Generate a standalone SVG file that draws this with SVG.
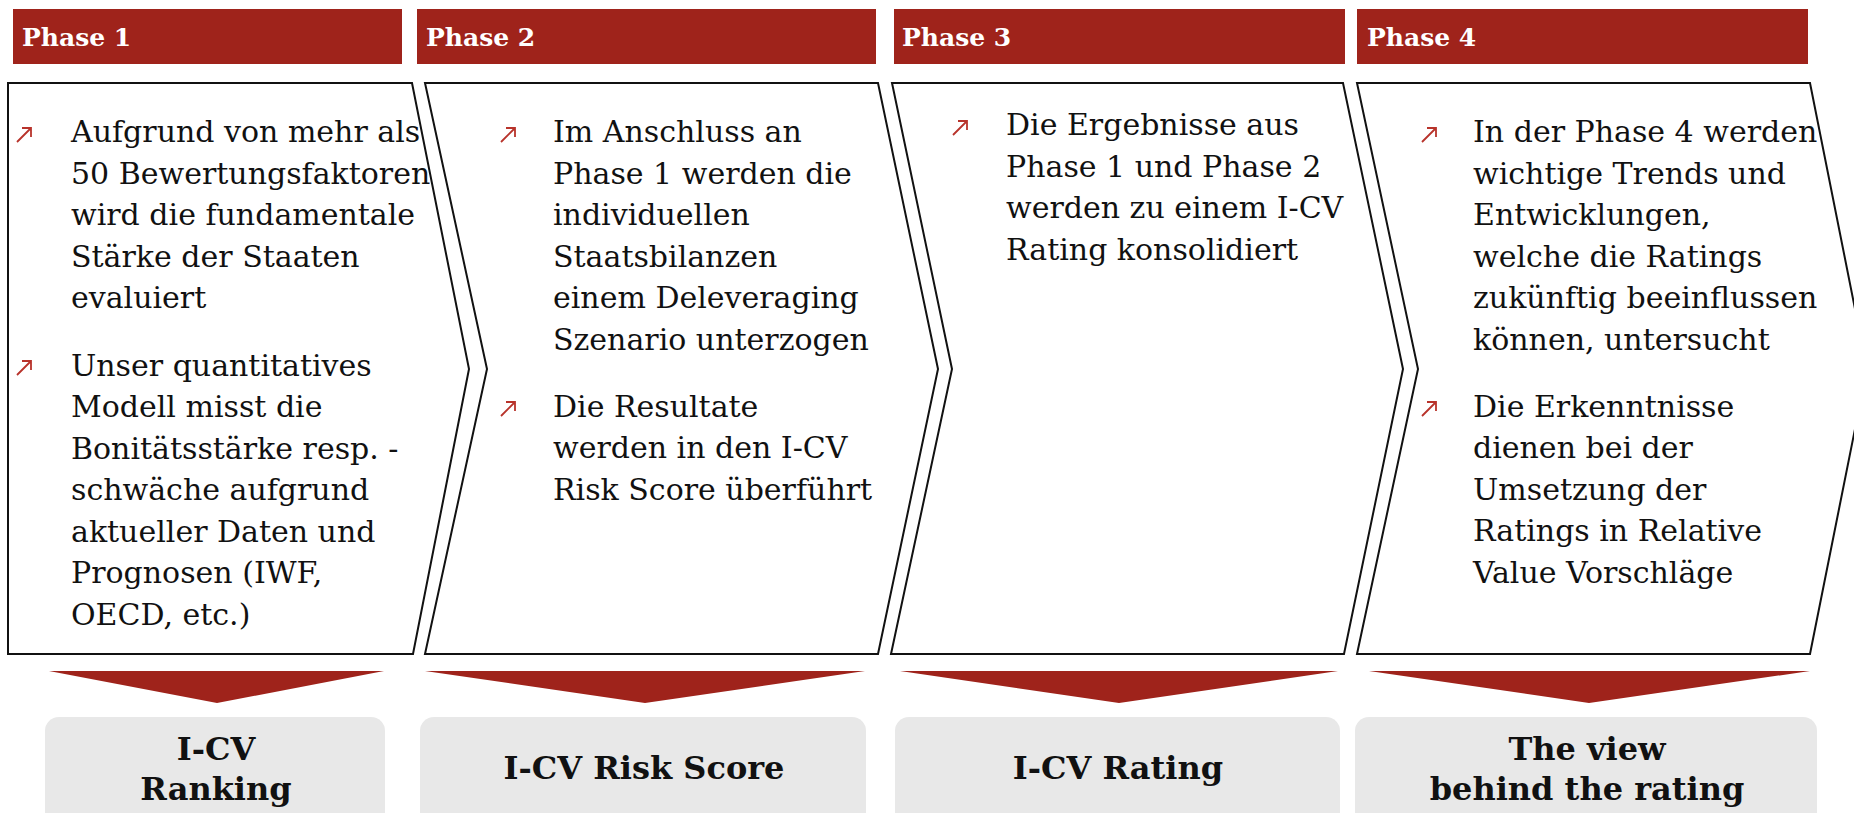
<svg xmlns="http://www.w3.org/2000/svg" xmlns:xlink="http://www.w3.org/1999/xlink" width="1854" height="813" viewBox="0 0 1854 813">
  <style>
    .bar { fill: #9f231b; }
    .bar-label { font-family: "DejaVu Serif", "Liberation Serif", serif; font-weight: bold; font-size: 25px; fill: #ffffff; }
    .chevron { fill: #ffffff; stroke: #111111; stroke-width: 2; stroke-linejoin: miter; }
    .body { font-family: "DejaVu Serif", "Liberation Serif", serif; font-size: 30px; fill: #111111; }
    .drop { fill: #9f231b; }
    .result { fill: #e8e8e8; }
    .result-label { font-family: "DejaVu Serif", "Liberation Serif", serif; font-weight: bold; font-size: 32px; fill: #111111; text-anchor: middle; }
    .bullet { fill: none; stroke: #b8332b; stroke-width: 1.8; }
  </style>
  <defs>
    <!-- small north-east arrow used as list bullet -->
    <g id="arrow-bullet">
      <path class="bullet" d="M1,15 L15,1 M6,1 H15 V10"/>
    </g>
  </defs>

  <rect width="1854" height="813" fill="#ffffff"/>

  <!-- Phase 1 -->
  <g id="phase1">
    <rect class="bar" x="13" y="9" width="389" height="55"/>
    <text class="bar-label" x="22" y="46">Phase 1</text>
    <path class="chevron" d="M8,83 L412,83 L469,369 L413,654 L8,654 Z"/>
    <use xlink:href="#arrow-bullet" x="16" y="127"/>
    <text class="body">
      <tspan x="71" y="142">Aufgrund von mehr als</tspan>
      <tspan x="71" dy="41.5">50 Bewertungsfaktoren</tspan>
      <tspan x="71" dy="41.5">wird die fundamentale</tspan>
      <tspan x="71" dy="41.5">Stärke der Staaten</tspan>
      <tspan x="71" dy="41.5">evaluiert</tspan>
    </text>
    <use xlink:href="#arrow-bullet" x="16" y="360"/>
    <text class="body">
      <tspan x="71" y="375.5">Unser quantitatives</tspan>
      <tspan x="71" dy="41.5">Modell misst die</tspan>
      <tspan x="71" dy="41.5">Bonitätsstärke resp. -</tspan>
      <tspan x="71" dy="41.5">schwäche aufgrund</tspan>
      <tspan x="71" dy="41.5">aktueller Daten und</tspan>
      <tspan x="71" dy="41.5">Prognosen (IWF,</tspan>
      <tspan x="71" dy="41.5">OECD, etc.)</tspan>
    </text>
  </g>

  <!-- Phase 2 -->
  <g id="phase2">
    <rect class="bar" x="417" y="9" width="459" height="55"/>
    <text class="bar-label" x="426" y="46">Phase 2</text>
    <path class="chevron" d="M425,83 L878,83 L938,369 L878,654 L425,654 L487,369 Z"/>
    <use xlink:href="#arrow-bullet" x="500" y="127"/>
    <text class="body">
      <tspan x="553" y="142">Im Anschluss an</tspan>
      <tspan x="553" dy="41.5">Phase 1 werden die</tspan>
      <tspan x="553" dy="41.5">individuellen</tspan>
      <tspan x="553" dy="41.5">Staatsbilanzen</tspan>
      <tspan x="553" dy="41.5">einem Deleveraging</tspan>
      <tspan x="553" dy="41.5">Szenario unterzogen</tspan>
    </text>
    <use xlink:href="#arrow-bullet" x="500" y="401"/>
    <text class="body">
      <tspan x="553" y="416.5">Die Resultate</tspan>
      <tspan x="553" dy="41.5">werden in den I-CV</tspan>
      <tspan x="553" dy="41.5">Risk Score überführt</tspan>
    </text>
  </g>

  <!-- Phase 3 -->
  <g id="phase3">
    <rect class="bar" x="894" y="9" width="451" height="55"/>
    <text class="bar-label" x="902" y="46">Phase 3</text>
    <path class="chevron" d="M892,83 L1343,83 L1403,369 L1344,654 L891,654 L952,369 Z"/>
    <use xlink:href="#arrow-bullet" x="952" y="120"/>
    <text class="body">
      <tspan x="1006" y="135">Die Ergebnisse aus</tspan>
      <tspan x="1006" dy="41.5">Phase 1 und Phase 2</tspan>
      <tspan x="1006" dy="41.5">werden zu einem I-CV</tspan>
      <tspan x="1006" dy="41.5">Rating konsolidiert</tspan>
    </text>
  </g>

  <!-- Phase 4 -->
  <g id="phase4">
    <rect class="bar" x="1357" y="9" width="451" height="55"/>
    <text class="bar-label" x="1367" y="46">Phase 4</text>
    <path class="chevron" d="M1357,83 L1810,83 L1867,369 L1810,654 L1357,654 L1418,369 Z"/>
    <use xlink:href="#arrow-bullet" x="1421" y="127"/>
    <text class="body">
      <tspan x="1473" y="142">In der Phase 4 werden</tspan>
      <tspan x="1473" dy="41.5">wichtige Trends und</tspan>
      <tspan x="1473" dy="41.5">Entwicklungen,</tspan>
      <tspan x="1473" dy="41.5">welche die Ratings</tspan>
      <tspan x="1473" dy="41.5">zukünftig beeinflussen</tspan>
      <tspan x="1473" dy="41.5">können, untersucht</tspan>
    </text>
    <use xlink:href="#arrow-bullet" x="1421" y="401"/>
    <text class="body">
      <tspan x="1473" y="416.5">Die Erkenntnisse</tspan>
      <tspan x="1473" dy="41.5">dienen bei der</tspan>
      <tspan x="1473" dy="41.5">Umsetzung der</tspan>
      <tspan x="1473" dy="41.5">Ratings in Relative</tspan>
      <tspan x="1473" dy="41.5">Value Vorschläge</tspan>
    </text>
  </g>

  <!-- downward pointers from each phase to its result -->
  <g id="connectors">
    <polygon class="drop" points="49,671 384,671 217,703"/>
    <polygon class="drop" points="425,671 865,671 645,703"/>
    <polygon class="drop" points="900,671 1338,671 1119,703"/>
    <polygon class="drop" points="1369,671 1810,671 1589,703"/>
  </g>

  <!-- results -->
  <g id="result1">
    <rect class="result" x="45" y="717" width="340" height="110" rx="14"/>
    <text class="result-label" x="216" y="760">I-CV</text>
    <text class="result-label" x="216" y="800">Ranking</text>
  </g>
  <g id="result2">
    <rect class="result" x="420" y="717" width="446" height="110" rx="14"/>
    <text class="result-label" x="644" y="779">I-CV Risk Score</text>
  </g>
  <g id="result3">
    <rect class="result" x="895" y="717" width="445" height="110" rx="14"/>
    <text class="result-label" x="1118" y="779">I-CV Rating</text>
  </g>
  <g id="result4">
    <rect class="result" x="1355" y="717" width="462" height="110" rx="14"/>
    <text class="result-label" x="1587" y="760">The view</text>
    <text class="result-label" x="1587" y="800">behind the rating</text>
  </g>
</svg>
